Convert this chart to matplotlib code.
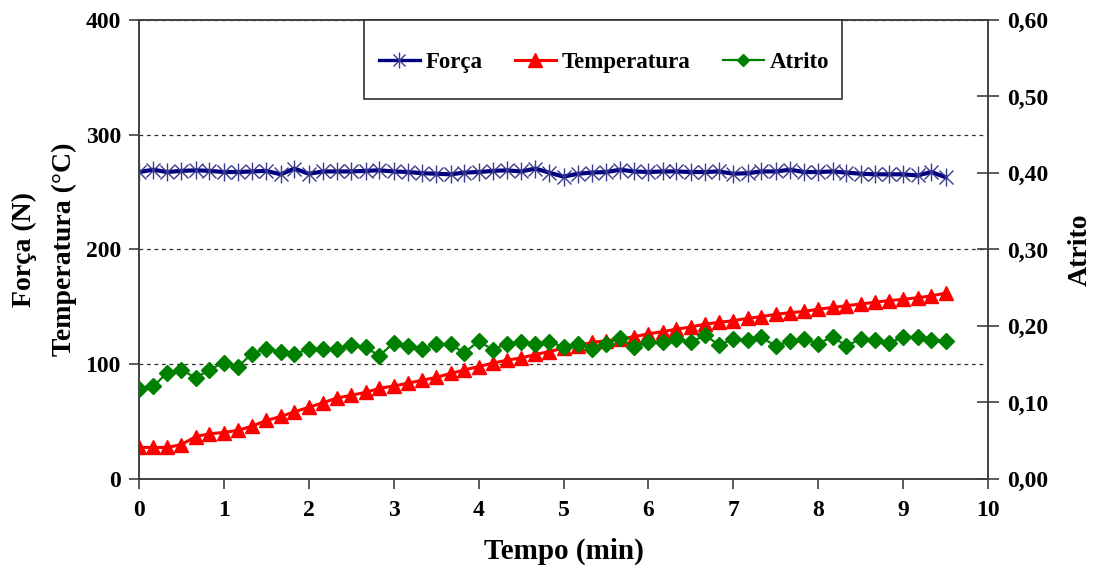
import matplotlib
matplotlib.use("Agg")
import matplotlib.pyplot as plt
from matplotlib.lines import Line2D
from matplotlib.patches import Rectangle
from matplotlib.ticker import FuncFormatter, MultipleLocator

plt.rcParams.update({
    'font.family': 'Liberation Serif',
    'font.weight': 'bold',
    'axes.labelweight': 'bold',
    'axes.linewidth': 1.2,
    'axes.edgecolor': '#404040',
})

# tempo em minutos (leitura a cada 10 s)
tempo = [0.00, 0.17, 0.33, 0.50, 0.67, 0.83, 1.00, 1.17, 1.33, 1.50,
         1.67, 1.83, 2.00, 2.17, 2.33, 2.50, 2.67, 2.83, 3.00, 3.17,
         3.33, 3.50, 3.67, 3.83, 4.00, 4.17, 4.33, 4.50, 4.67, 4.83,
         5.00, 5.17, 5.33, 5.50, 5.67, 5.83, 6.00, 6.17, 6.33, 6.50,
         6.67, 6.83, 7.00, 7.17, 7.33, 7.50, 7.67, 7.83, 8.00, 8.17,
         8.33, 8.50, 8.67, 8.83, 9.00, 9.17, 9.33, 9.50]

forca = [267.5, 269.5, 267.5, 268.5, 269, 268.5, 267.5, 267.5, 268, 268.5,
         265.5, 270.5, 266, 268, 268, 268, 268.5, 269, 268, 267.5,
         266.5, 266, 265.5, 267, 267.5, 268.5, 269, 268, 270.5, 267,
         263.5, 266, 267, 267.5, 269.5, 268, 267.5, 268, 268, 267.5,
         267.5, 268, 266, 266.5, 268, 268, 269.5, 267.5, 267.5, 268,
         267, 266, 265.5, 265.5, 265.5, 264.5, 267.5, 263]

temperatura = [27.5, 27.5, 27.5, 30, 37, 39.5, 40.5, 42.5, 46, 51,
               54.5, 58.5, 62.5, 66.5, 70.5, 73, 75.5, 79, 81, 83.5,
               86, 88.5, 92, 95, 98, 101, 103.5, 105.5, 108.5, 111,
               114, 116, 119, 120.5, 122, 124, 126.5, 128.5, 130.5, 132.5,
               135, 136.5, 138, 140, 141.5, 143.5, 145, 146, 148, 149.5,
               151, 152.5, 154, 155.5, 156.5, 158, 159.5, 162]

atrito = [0.117, 0.121, 0.139, 0.143, 0.132, 0.143, 0.152, 0.147, 0.164, 0.170,
          0.166, 0.163, 0.170, 0.170, 0.170, 0.175, 0.172, 0.161, 0.178, 0.174,
          0.170, 0.176, 0.176, 0.165, 0.180, 0.169, 0.177, 0.179, 0.177, 0.179,
          0.173, 0.176, 0.170, 0.177, 0.184, 0.172, 0.179, 0.179, 0.183, 0.179,
          0.188, 0.175, 0.183, 0.182, 0.185, 0.174, 0.180, 0.183, 0.177, 0.186,
          0.174, 0.183, 0.182, 0.178, 0.185, 0.186, 0.182, 0.181]

NAVY = '#000080'
STAR = '#3a3a8c'
RED = '#ff0000'
GREEN = '#008000'

fig = plt.figure(figsize=(10.96, 5.74), dpi=100)
ax = fig.add_axes([0.1268, 0.1655, 0.7747, 0.7997])
ax2 = ax.twinx()

# Excel-style star marker: an x with a vertical bar through it
ax.plot(tempo, forca, color=NAVY, lw=3.0, marker='x', ms=10,
        mec=STAR, mew=1.0, zorder=3)
ax.plot(tempo, forca, ls='none', marker='|', ms=13, mec=STAR, mew=1.0, zorder=3)
ax.plot(tempo, temperatura, color=RED, lw=2.2, marker='^', ms=10.5,
        mec=RED, mfc=RED, zorder=3)
ax2.plot(tempo, atrito, color=GREEN, lw=1.6, marker='D', ms=8,
         mec=GREEN, mfc=GREEN, zorder=3)

ax.set_xlim(0, 10)
ax.set_ylim(0, 400)
ax2.set_ylim(0, 0.6)
ax.xaxis.set_major_locator(MultipleLocator(1))
ax.yaxis.set_major_locator(MultipleLocator(100))
ax2.yaxis.set_major_locator(MultipleLocator(0.1))
ax2.yaxis.set_major_formatter(FuncFormatter(lambda v, p: f'{v:.2f}'.replace('.', ',')))

ax.grid(axis='y', color='#303030', linestyle=(0, (3, 3)), linewidth=0.9)
ax.set_axisbelow(True)

ax.tick_params(axis='both', labelsize=17, length=7, width=1.2, color='#404040')
ax.tick_params(axis='x', pad=8)
ax.tick_params(axis='y', pad=6)
ax2.tick_params(axis='y', labelsize=17, direction='inout', length=16, width=1.2,
                color='#404040', pad=6)

ax.set_xlabel('Tempo (min)', fontsize=21, labelpad=12)
ax.set_ylabel('Força (N)\nTemperatura (°C)', fontsize=20, labelpad=6,
              linespacing=1.8)
ax2.set_ylabel('Atrito', fontsize=20, labelpad=14)

# legend box (wider than tall padding allows, so drawn separately)
ax2.add_patch(Rectangle((0.265, 0.828), 0.563, 0.172, transform=ax2.transAxes,
                        facecolor='white', edgecolor='#303030', lw=1.2,
                        zorder=5, clip_on=False))

star_x = Line2D([], [], color=NAVY, lw=2.4, marker='x', ms=8, mec=STAR, mew=1.0)
star_bar = Line2D([], [], ls='none', marker='|', ms=11, mec=STAR, mew=1.0)
handles = [
    (star_x, star_bar),
    Line2D([], [], color=RED, lw=2.2, marker='^', ms=9.5),
    Line2D([], [], color=GREEN, lw=1.6, marker='D', ms=6.5),
]
leg = ax2.legend(handles, ['Força', 'Temperatura', 'Atrito'], ncol=3,
                 loc='center', bbox_to_anchor=(0.5475, 0.907),
                 fontsize=16.5, frameon=False, borderpad=0.2,
                 handlelength=1.8, handletextpad=0.25,
                 columnspacing=1.4, borderaxespad=0.0)
leg.set_zorder(6)

fig.savefig('out.png', dpi=100)
